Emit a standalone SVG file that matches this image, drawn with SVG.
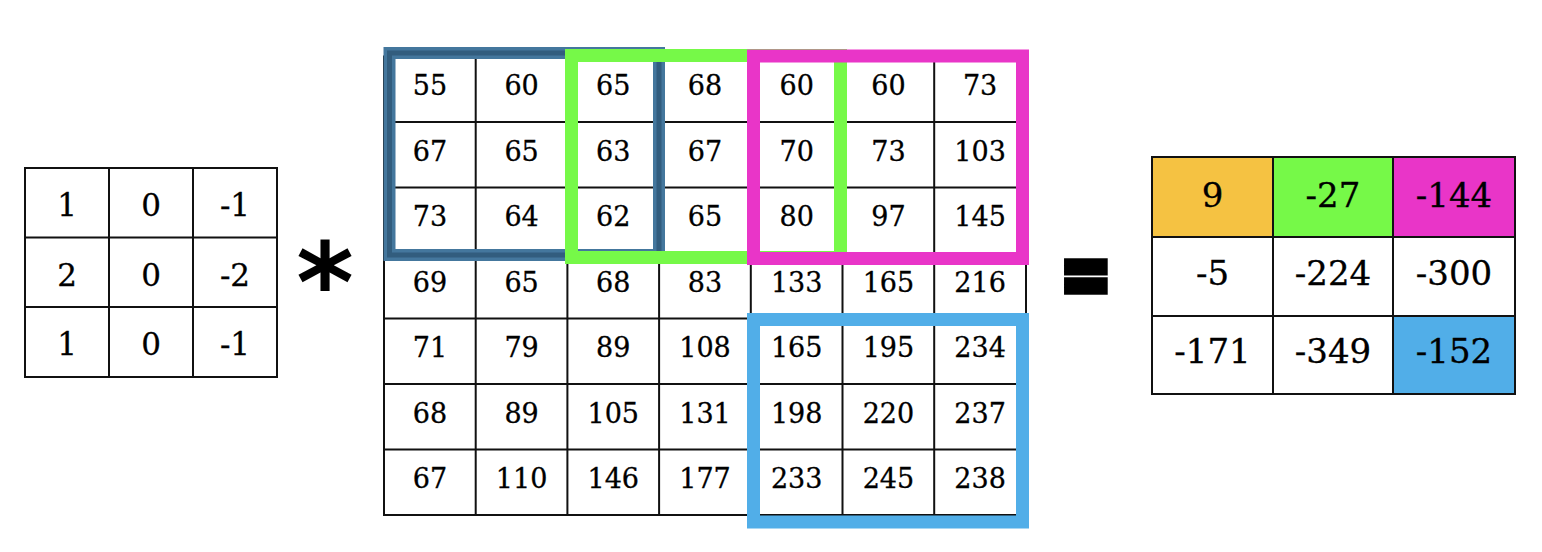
<svg xmlns="http://www.w3.org/2000/svg" width="1542" height="552" viewBox="0 0 1542 552">
<style>
.g{fill:none;stroke:#111;stroke-width:2}
.t{font-family:"DejaVu Serif","Liberation Serif",serif;fill:#000;text-anchor:middle;stroke:#000;stroke-width:0.3}
.b{font-size:27px}
.k{font-size:31px}
.r{font-size:34px}
</style>
<rect width="1542" height="552" fill="#fff"/>
<g id="kernel">
<rect x="25" y="168" width="252" height="209" class="g"/>
<path class="g" d="M109 168V377M193 168V377M25 237.5H277M25 307H277"/>
<g class="t k">
<text x="67" y="216">1</text><text x="151" y="216">0</text><text x="235" y="216">-1</text>
<text x="67" y="285.5">2</text><text x="151" y="285.5">0</text><text x="235" y="285.5">-2</text>
<text x="67" y="355">1</text><text x="151" y="355">0</text><text x="235" y="355">-1</text>
</g>
</g>
<g id="op-star">
<text x="325" y="322" font-family="DejaVu Sans" font-weight="bold" font-size="110" text-anchor="middle">*</text>
</g>
<g id="image">
<rect x="384" y="56.5" width="642" height="458.5" class="g"/>
<path class="g" d="M475.7 56.5V515M567.4 56.5V515M659.1 56.5V515M750.8 56.5V515M842.5 56.5V515M934.2 56.5V515M384 122H1026M384 187.5H1026M384 253H1026M384 318.5H1026M384 384H1026M384 449.5H1026"/>
<g class="t b">
<text x="429.9" y="95">55</text><text x="521.6" y="95">60</text><text x="613.3" y="95">65</text><text x="705" y="95">68</text><text x="796.7" y="95">60</text><text x="888.4" y="95">60</text><text x="980.1" y="95">73</text>
<text x="429.9" y="160.5">67</text><text x="521.6" y="160.5">65</text><text x="613.3" y="160.5">63</text><text x="705" y="160.5">67</text><text x="796.7" y="160.5">70</text><text x="888.4" y="160.5">73</text><text x="980.1" y="160.5">103</text>
<text x="429.9" y="226">73</text><text x="521.6" y="226">64</text><text x="613.3" y="226">62</text><text x="705" y="226">65</text><text x="796.7" y="226">80</text><text x="888.4" y="226">97</text><text x="980.1" y="226">145</text>
<text x="429.9" y="291.5">69</text><text x="521.6" y="291.5">65</text><text x="613.3" y="291.5">68</text><text x="705" y="291.5">83</text><text x="796.7" y="291.5">133</text><text x="888.4" y="291.5">165</text><text x="980.1" y="291.5">216</text>
<text x="429.9" y="357">71</text><text x="521.6" y="357">79</text><text x="613.3" y="357">89</text><text x="705" y="357">108</text><text x="796.7" y="357">165</text><text x="888.4" y="357">195</text><text x="980.1" y="357">234</text>
<text x="429.9" y="422.5">68</text><text x="521.6" y="422.5">89</text><text x="613.3" y="422.5">105</text><text x="705" y="422.5">131</text><text x="796.7" y="422.5">198</text><text x="888.4" y="422.5">220</text><text x="980.1" y="422.5">237</text>
<text x="429.9" y="488">67</text><text x="521.6" y="488">110</text><text x="613.3" y="488">146</text><text x="705" y="488">177</text><text x="796.7" y="488">233</text><text x="888.4" y="488">245</text><text x="980.1" y="488">238</text>
</g>
</g>
<g id="windows" fill="none">
<g id="win-dark">
<rect x="389.5" y="53" width="269.5" height="202" stroke="#44779d" stroke-width="12"/>
<rect x="389.5" y="53" width="269.5" height="202" stroke="#325d7e" stroke-width="5"/>
</g>
<rect id="win-green" x="571.5" y="55.5" width="269" height="202" stroke="#76f948" stroke-width="13"/>
<rect id="win-magenta" x="753.5" y="56" width="269" height="202.5" stroke="#e935c8" stroke-width="13"/>
<rect id="win-blue" x="753.5" y="319.5" width="269" height="202.5" stroke="#51aee8" stroke-width="13"/>
</g>
<g id="op-eq">
<text x="1086" y="303" font-family="DejaVu Sans" font-weight="bold" font-size="85" text-anchor="middle" stroke="#000" stroke-width="7.5" transform="translate(1086 0) scale(0.72 1) translate(-1086 0)">=</text>
</g>
<g id="result">
<rect x="1152" y="157" width="121" height="80" fill="#f5c242"/>
<rect x="1273" y="157" width="120" height="80" fill="#76f948"/>
<rect x="1393" y="157" width="122" height="80" fill="#e935c8"/>
<rect x="1393" y="316" width="122" height="78" fill="#51aee8"/>
<rect x="1152" y="157" width="363" height="237" class="g"/>
<path class="g" d="M1273 157V394M1393 157V394M1152 237H1515M1152 316H1515"/>
<g class="t r">
<text x="1212.5" y="207">9</text><text x="1333" y="207">-27</text><text x="1454" y="207">-144</text>
<text x="1212.5" y="285">-5</text><text x="1333" y="285">-224</text><text x="1454" y="285">-300</text>
<text x="1212.5" y="363">-171</text><text x="1333" y="363">-349</text><text x="1454" y="363">-152</text>
</g>
</g>
</svg>
